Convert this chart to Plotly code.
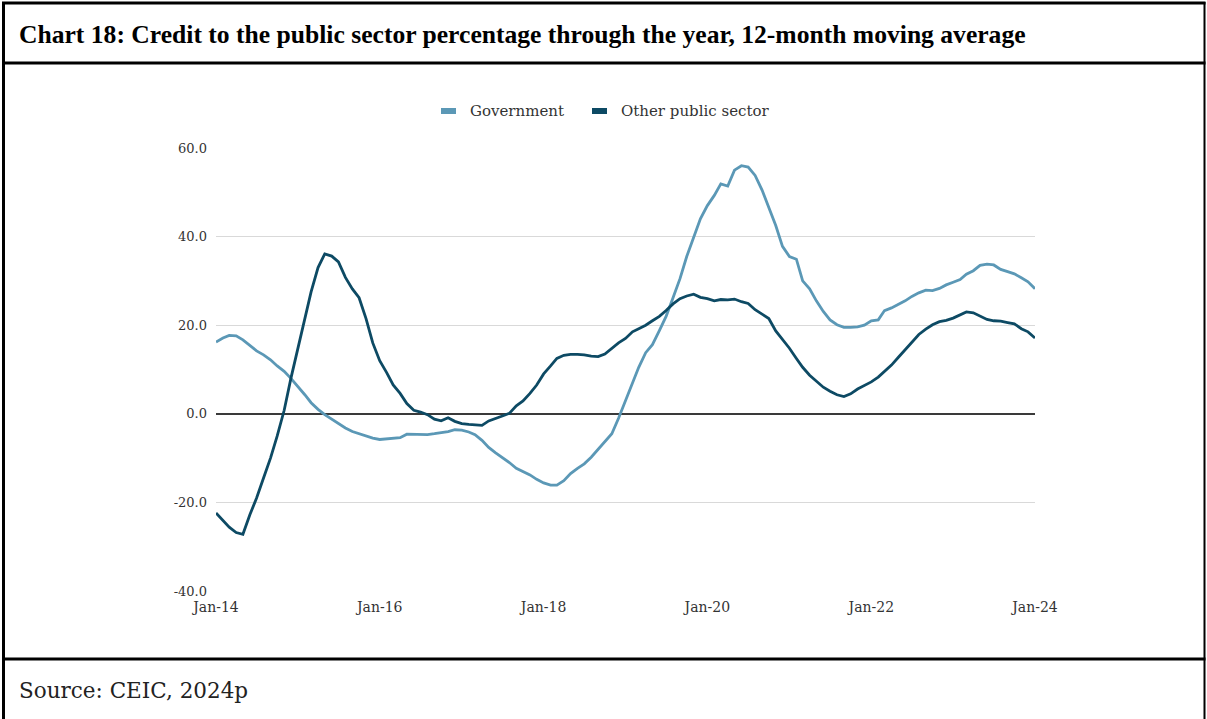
import pandas as pd
import plotly.graph_objects as go

# ---- data (monthly, Jan-2014 .. Jan-2024) ----
start_month = "2014-01-01"
government = [
    16.2, 17.1, 17.7, 17.6, 16.7, 15.4, 14.2, 13.3, 12.2, 10.8,
    9.6, 8.0, 6.2, 4.3, 2.5, 1.0, -0.2, -1.2, -2.2, -3.2,
    -4.0, -4.5, -5.0, -5.5, -5.8, -5.7, -5.6, -5.4, -4.6, -4.6,
    -4.6, -4.7, -4.5, -4.3, -4.0, -3.6, -3.7, -4.1, -4.7, -6.0,
    -7.6, -8.8, -9.8, -11.0, -12.3, -13.0, -13.8, -14.8, -15.6, -16.1,
    -16.1, -15.1, -13.5, -12.3, -11.3, -9.8, -8.0, -6.3, -4.5, -1.0,
    3.0, 7.0, 10.5, 13.8, 15.6, 18.8, 22.0, 26.2, 30.5, 35.5,
    40.0, 44.0, 47.0, 49.3, 51.9, 51.4, 55.0, 56.0, 55.7, 53.8,
    50.5, 46.7, 42.5, 37.8, 35.5, 34.9, 30.0, 28.2, 25.5, 23.1,
    21.2, 20.1, 19.5, 19.5, 19.6, 20.0, 21.0, 21.2, 23.3, 23.9,
    24.7, 25.5, 26.5, 27.3, 27.9, 27.8, 28.3, 29.1, 29.7, 30.3,
    31.5, 32.3, 33.5, 33.8, 33.6, 32.6, 32.1, 31.6, 30.7, 29.8,
    28.2,
]
other_public = [
    -22.4, -24.0, -25.6, -26.8, -27.2, -22.8, -19.0, -14.5, -10.0, -5.0,
    0.8, 8.0, 14.5, 21.0, 27.5, 33.0, 36.1, 35.6, 34.3, 30.8,
    28.2, 26.2, 21.5, 16.0, 12.0, 9.3, 6.5, 4.6, 2.3, 0.8,
    0.4, -0.2, -1.2, -1.6, -0.9, -1.7, -2.2, -2.4, -2.5, -2.6,
    -1.6, -1.1, -0.5, 0.1, 1.8, 2.9, 4.6, 6.5, 9.0, 10.8,
    12.5, 13.2, 13.4, 13.4, 13.3, 13.0, 12.9, 13.5, 14.8, 16.0,
    17.0, 18.5, 19.2, 20.0, 21.0, 22.0, 23.3, 24.8, 26.0, 26.6,
    27.0, 26.3, 26.0, 25.5, 25.8, 25.7, 25.9, 25.3, 24.9, 23.5,
    22.5, 21.5, 18.7, 16.8, 14.8, 12.5, 10.5, 8.7, 7.3, 6.0,
    5.1, 4.3, 3.9, 4.5, 5.6, 6.4, 7.2, 8.3, 9.5, 11.0,
    12.7, 14.5, 16.2, 17.9, 19.1, 20.1, 20.8, 21.1, 21.6, 22.4,
    23.0, 22.8, 22.0, 21.3, 21.0, 20.9, 20.6, 20.3, 19.2, 18.5,
    17.1,
]
x_tick_dates = ["2014-01-01", "2016-01-01", "2018-01-01", "2020-01-01", "2022-01-01", "2024-01-01"]
x_tick_labels = ["Jan-14", "Jan-16", "Jan-18", "Jan-20", "Jan-22", "Jan-24"]
y_tick_vals = [-40, -20, 0, 20, 40, 60]
y_tick_labels = ["-40.0", "-20.0", "0.0", "20.0", "40.0", "60.0"]
series_names = ["Government", "Other public sector"]

dates = pd.date_range(start_month, periods=len(government), freq="MS")

GOV_COLOR = "#5b98b6"
OPS_COLOR = "#0d4a64"
SERIF = "DejaVu Serif"

W, H = 1207, 719
L, R, T, B = 216, 1035, 148, 591  # plot area in pixels


def px(x):
    return (x - L) / (R - L)


def py(y):
    return (B - y) / (B - T)


fig = go.Figure()
fig.add_trace(go.Scatter(x=dates, y=government, mode="lines", name=series_names[0],
                         line=dict(color=GOV_COLOR, width=2.8), showlegend=False))
fig.add_trace(go.Scatter(x=dates, y=other_public, mode="lines", name=series_names[1],
                         line=dict(color=OPS_COLOR, width=2.8), showlegend=False))

shapes = []
# frame
frame_color = "black"
shapes.append(dict(type="line", xref="paper", yref="paper", x0=px(3.5), x1=px(3.5), y0=py(2), y1=py(719), line=dict(color=frame_color, width=3)))
shapes.append(dict(type="line", xref="paper", yref="paper", x0=px(1204.5), x1=px(1204.5), y0=py(2), y1=py(719), line=dict(color=frame_color, width=2)))
shapes.append(dict(type="line", xref="paper", yref="paper", x0=px(2), x1=px(1205.5), y0=py(3), y1=py(3), line=dict(color=frame_color, width=3)))
shapes.append(dict(type="line", xref="paper", yref="paper", x0=px(2), x1=px(1205.5), y0=py(63), y1=py(63), line=dict(color=frame_color, width=3)))
shapes.append(dict(type="line", xref="paper", yref="paper", x0=px(2), x1=px(1205.5), y0=py(659), y1=py(659), line=dict(color=frame_color, width=3)))
# legend swatches
shapes.append(dict(type="rect", xref="paper", yref="paper", x0=px(441), x1=px(456), y0=py(114), y1=py(108), line=dict(width=0), fillcolor=GOV_COLOR))
shapes.append(dict(type="rect", xref="paper", yref="paper", x0=px(592), x1=px(607), y0=py(114), y1=py(108), line=dict(width=0), fillcolor=OPS_COLOR))

annotations = [
    dict(text="<b>Chart 18: Credit to the public sector percentage through the year, 12-month moving average</b>",
         xref="paper", yref="paper", x=px(17), y=py(34), xanchor="left", yanchor="middle",
         showarrow=False, font=dict(family="Liberation Serif", size=25.6, color="black")),
    dict(text="Source: CEIC, 2024p", xref="paper", yref="paper", x=px(17), y=py(690),
         xanchor="left", yanchor="middle", showarrow=False,
         font=dict(family=SERIF, size=21.5, color="#222")),
    dict(text=series_names[0], xref="paper", yref="paper", x=px(468), y=py(111),
         xanchor="left", yanchor="middle", showarrow=False,
         font=dict(family=SERIF, size=15, color="#333")),
    dict(text=series_names[1], xref="paper", yref="paper", x=px(619), y=py(111),
         xanchor="left", yanchor="middle", showarrow=False,
         font=dict(family=SERIF, size=15, color="#333")),
]

fig.update_layout(
    width=W, height=H,
    margin=dict(l=L, r=W - R, t=T, b=H - B, pad=0),
    paper_bgcolor="white", plot_bgcolor="white",
    showlegend=False,
    shapes=shapes, annotations=annotations,
    xaxis=dict(range=[x_tick_dates[0], x_tick_dates[-1]], tickmode="array",
               tickvals=x_tick_dates, ticktext=x_tick_labels, showgrid=False,
               zeroline=False, showline=False, ticks="", ticklabelstandoff=6,
               tickfont=dict(family=SERIF, size=14, color="#333")),
    yaxis=dict(range=[-40, 60], tickmode="array", tickvals=y_tick_vals, ticktext=y_tick_labels,
               showgrid=True, gridcolor="#d9d9d9", gridwidth=1.3,
               zeroline=True, zerolinecolor="#3a3a3a", zerolinewidth=1.5,
               showline=False, ticks="", ticklabelstandoff=8,
               tickfont=dict(family=SERIF, size=13, color="#333")),
)

fig.write_html("out.html", config={"displayModeBar": False},
               post_script="document.body.style.margin='0';document.body.style.overflow='hidden';")
